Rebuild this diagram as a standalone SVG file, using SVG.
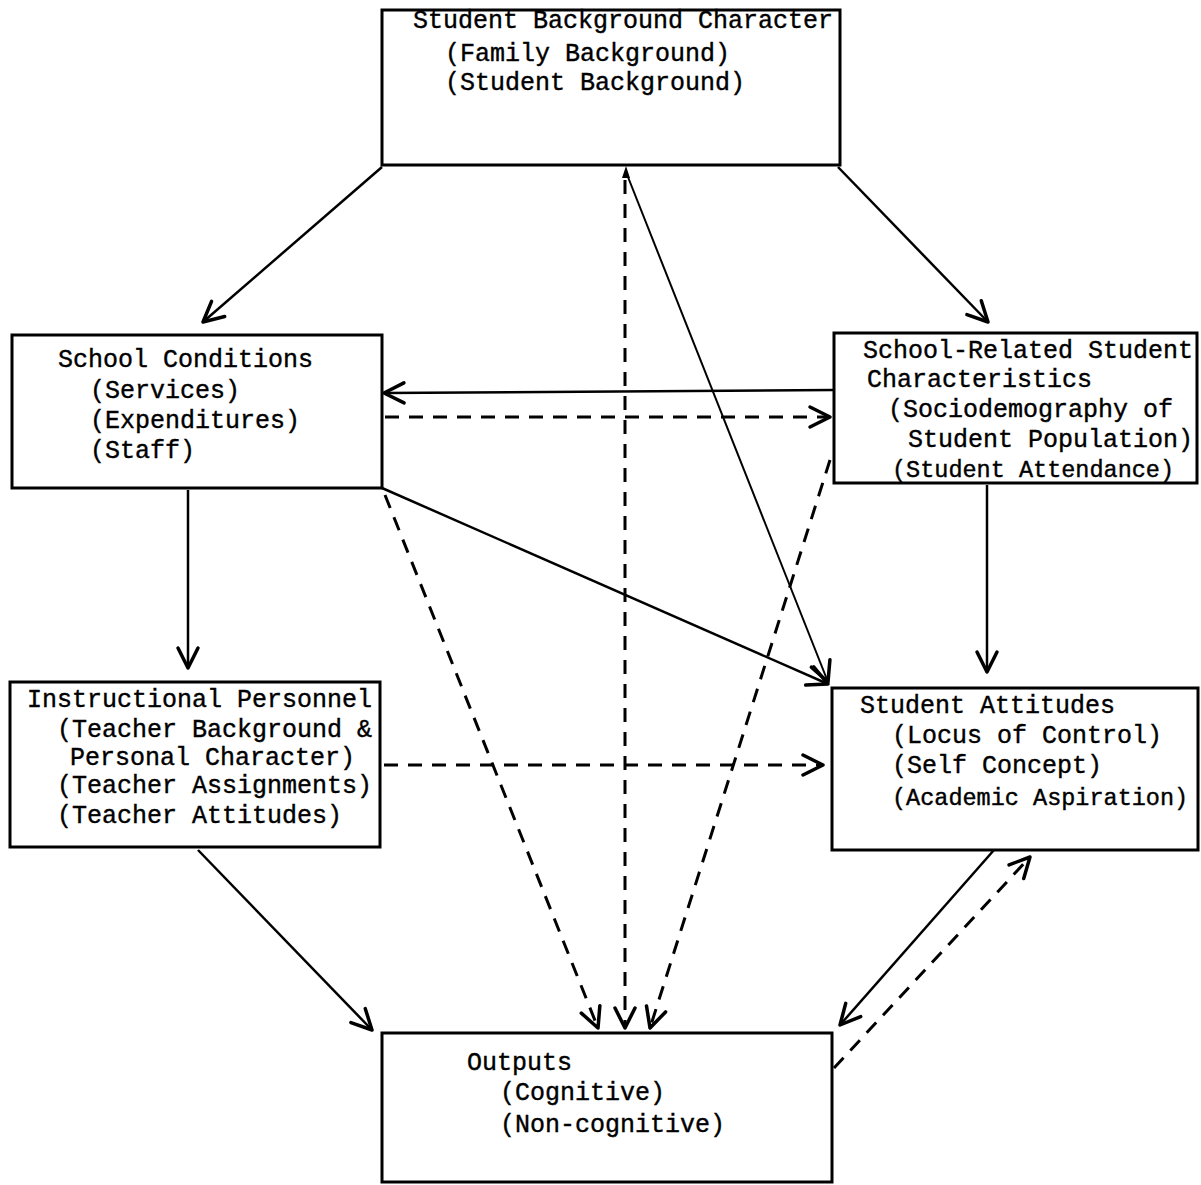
<svg xmlns="http://www.w3.org/2000/svg" width="1201" height="1185" viewBox="0 0 1201 1185">
<style>
.box{fill:none;stroke:#000;stroke-width:3}
.t{font-family:"Liberation Mono","DejaVu Sans Mono",monospace;font-size:25px;fill:#000;stroke:#000;stroke-width:0.4}
.n{font-size:23.5px}
.s{fill:none;stroke:#000;stroke-width:2.5;marker-end:url(#ah)}
.d{fill:none;stroke:#000;stroke-width:3;stroke-dasharray:14 10;marker-end:url(#ah)}
</style>
<defs>
<marker id="ah" viewBox="0 0 26 26" refX="23" refY="13" markerWidth="26" markerHeight="26" markerUnits="userSpaceOnUse" orient="auto">
<path d="M3,3 L23,13 L3,23" fill="none" stroke="#000" stroke-width="3.5" stroke-linecap="round" stroke-linejoin="round"/>
</marker>
</defs>
<rect width="1201" height="1185" fill="#fff"/>
<g id="student-background">
<rect class="box" x="382" y="10" width="458" height="155"/>
<text class="t" x="413" y="28">Student Background Character</text>
<text class="t" x="445" y="61">(Family Background)</text>
<text class="t" x="445" y="90">(Student Background)</text>
</g>
<g id="school-conditions">
<rect class="box" x="12" y="335" width="370" height="153"/>
<text class="t" x="58" y="367">School Conditions</text>
<text class="t" x="90" y="398">(Services)</text>
<text class="t" x="90" y="428">(Expenditures)</text>
<text class="t" x="90" y="458">(Staff)</text>
</g>
<g id="school-related">
<rect class="box" x="834" y="333" width="363" height="150"/>
<text class="t" x="863" y="358">School-Related Student</text>
<text class="t" x="867" y="387">Characteristics</text>
<text class="t" x="888" y="417">(Sociodemography of</text>
<text class="t" x="908" y="447">Student Population)</text>
<text class="t n" x="892" y="477">(Student Attendance)</text>
</g>
<g id="instructional-personnel">
<rect class="box" x="10" y="682" width="370" height="165"/>
<text class="t" x="27" y="707">Instructional Personnel</text>
<text class="t" x="57" y="737">(Teacher Background &amp;</text>
<text class="t" x="70" y="765">Personal Character)</text>
<text class="t" x="57" y="793">(Teacher Assignments)</text>
<text class="t" x="57" y="823">(Teacher Attitudes)</text>
</g>
<g id="student-attitudes">
<rect class="box" x="832" y="688" width="366" height="162"/>
<text class="t" x="860" y="713">Student Attitudes</text>
<text class="t" x="892" y="743">(Locus of Control)</text>
<text class="t" x="892" y="773">(Self Concept)</text>
<text class="t n" x="892" y="805">(Academic Aspiration)</text>
</g>
<g id="outputs">
<rect class="box" x="382" y="1033" width="450" height="149"/>
<text class="t" x="467" y="1070">Outputs</text>
<text class="t" x="500" y="1100">(Cognitive)</text>
<text class="t" x="500" y="1132">(Non-cognitive)</text>
</g>
<g id="connectors">
<path class="s" d="M382,167 L203,322"/>
<path class="s" d="M838,167 L988,322"/>
<path class="d" d="M625,180 L625,1028"/>
<path d="M626,166 L622,178 L630,178 Z" fill="#000"/>
<path class="s" style="stroke-width:2" d="M626,172 L828,682"/>
<path class="s" d="M833,390 L384,393"/>
<path class="d" d="M385,417 L830,417"/>
<path class="s" d="M188,490 L188,668"/>
<path class="s" d="M382,488 L828,684"/>
<path class="d" d="M385,495 L598,1028"/>
<path class="d" d="M830,460 L650,1028"/>
<path class="s" d="M987,485 L987,672"/>
<path class="d" d="M384,765 L823,765"/>
<path class="s" d="M198,850 L372,1030"/>
<path class="s" d="M994,850 L840,1025"/>
<path class="d" d="M834,1068 L1030,857"/>
</g>
</svg>
